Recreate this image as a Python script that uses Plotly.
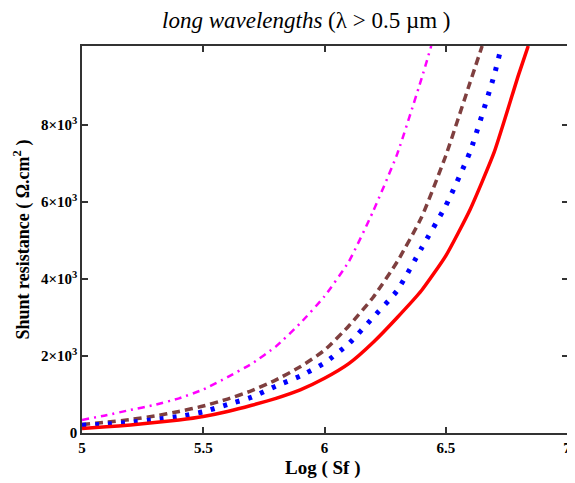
import plotly.graph_objects as go

# Data (x = Log(Sf), y = shunt resistance in ohm.cm^2)
x_red = [5.0, 5.1, 5.2, 5.3, 5.4, 5.5, 5.6, 5.7, 5.8, 5.9, 6.0, 6.1, 6.2, 6.3, 6.4, 6.5, 6.6, 6.7, 6.8, 6.84]
y_red = [120, 160, 210, 270, 340, 430, 560, 720, 900, 1120, 1420, 1800, 2350, 3000, 3700, 4600, 5800, 7300, 9300, 10050]

x_blue = [5.0, 5.1, 5.2, 5.3, 5.4, 5.5, 5.6, 5.7, 5.8, 5.9, 6.0, 6.1, 6.2, 6.3, 6.4, 6.5, 6.6, 6.7, 6.73]
y_blue = [200, 230, 280, 350, 430, 550, 740, 930, 1220, 1480, 1820, 2320, 3000, 3700, 4800, 5900, 7300, 9300, 10050]

x_brown = [5.0, 5.1, 5.2, 5.3, 5.4, 5.5, 5.6, 5.7, 5.8, 5.9, 6.0, 6.1, 6.2, 6.3, 6.4, 6.5, 6.6, 6.65]
y_brown = [220, 280, 350, 440, 560, 700, 880, 1100, 1380, 1720, 2150, 2780, 3520, 4450, 5600, 7200, 9100, 10050]

x_mag = [5.0, 5.1, 5.2, 5.3, 5.4, 5.5, 5.6, 5.7, 5.8, 5.9, 6.0, 6.1, 6.2, 6.3, 6.4, 6.44]
y_mag = [340, 460, 600, 730, 900, 1130, 1450, 1800, 2250, 2850, 3550, 4450, 5750, 7250, 9200, 10050]

x_ticks = [5, 5.5, 6, 6.5, 7]
x_ticktext = ["5", "5.5", "6", "6.5", "7"]
y_ticks = [0, 2000, 4000, 6000, 8000]
y_ticktext = ["0", "2×10<sup>3</sup>", "4×10<sup>3</sup>", "6×10<sup>3</sup>", "8×10<sup>3</sup>"]

FONT = "Liberation Serif, Times New Roman, serif"

fig = go.Figure()
fig.add_trace(go.Scatter(x=x_mag, y=y_mag, mode="lines",
                         line=dict(color="#ff00ff", width=2.5, dash="7px,5px,2px,5px", shape="spline", smoothing=0.5),
                         showlegend=False))
fig.add_trace(go.Scatter(x=x_brown, y=y_brown, mode="lines",
                         line=dict(color="#7f3f3f", width=3.5, dash="8px,5px", shape="spline", smoothing=0.5),
                         showlegend=False))
fig.add_trace(go.Scatter(x=x_blue, y=y_blue, mode="lines",
                         line=dict(color="#0000ff", width=5, dash="4px,9px", shape="spline", smoothing=0.5),
                         showlegend=False))
fig.add_trace(go.Scatter(x=x_red, y=y_red, mode="lines",
                         line=dict(color="#ff0000", width=3.5, shape="spline", smoothing=0.5),
                         showlegend=False))

axis_common = dict(ticks="inside", ticklen=6, tickwidth=1.5, tickcolor="#333",
                   showline=True, linecolor="#333", linewidth=1.5, mirror="ticks",
                   showgrid=False, zeroline=False, automargin=False)

# page body has an 8px margin, so the figure is 8px smaller than the window
fig.update_layout(
    width=567, height=475,
    margin=dict(l=74, r=7, t=38, b=50),
    paper_bgcolor="white", plot_bgcolor="white",
    font=dict(family=FONT, color="black"),
    annotations=[
        dict(text="<i>long wavelengths</i> (λ > 0.5 µm )", xref="paper", yref="paper",
             x=0.461, y=1.067, xanchor="center", yanchor="middle", showarrow=False,
             font=dict(family=FONT, size=23, color="black")),
        dict(text="<b>Log ( Sf )</b>", xref="paper", yref="paper",
             x=0.494, y=-0.0904, xanchor="center", yanchor="middle", showarrow=False,
             font=dict(family=FONT, size=19, color="black")),
        dict(text="<b>Shunt resistance ( Ω.cm<sup>2</sup> )</b>", xref="paper", yref="paper",
             x=-0.1235, y=0.5, xanchor="center", yanchor="middle", showarrow=False, textangle=-90,
             font=dict(family=FONT, size=18, color="black")),
    ],
)
fig.update_xaxes(range=[5, 7.004], tickvals=x_ticks, ticktext=x_ticktext,
                 tickfont=dict(family=FONT, size=15, color="black", weight="bold"),
                 **axis_common)
fig.update_yaxes(range=[0, 10050], tickvals=y_ticks, ticktext=y_ticktext,
                 tickfont=dict(family=FONT, size=15, color="black", weight="bold"),
                 **axis_common)

fig.write_html("out.html")
